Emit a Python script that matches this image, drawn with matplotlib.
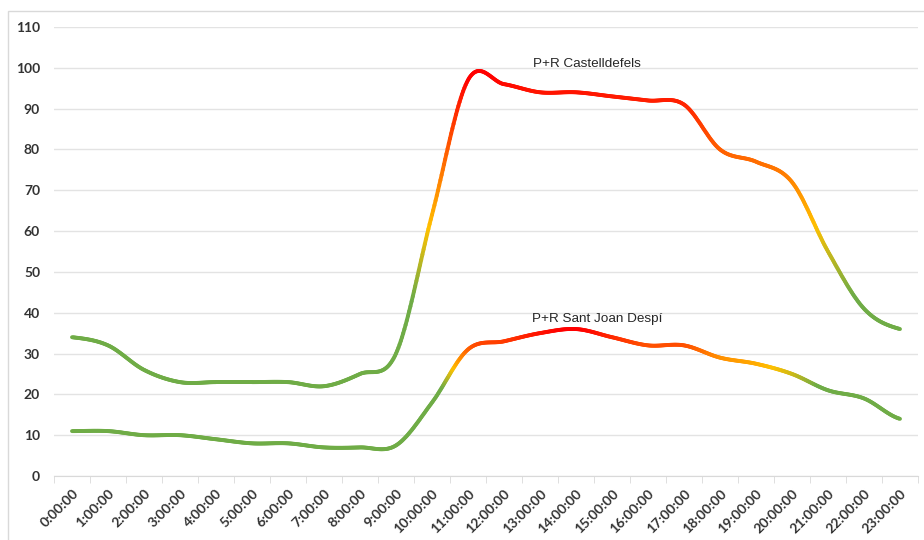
import numpy as np
import matplotlib
matplotlib.use("Agg")
import matplotlib.pyplot as plt
from matplotlib.collections import LineCollection
from matplotlib.colors import LinearSegmentedColormap, Normalize
from matplotlib.patches import Rectangle

# hourly occupancy
hours = ["%d:00:00" % h for h in range(24)]
castelldefels = [34, 32, 26, 23, 23, 23, 23, 22, 25, 30, 64, 97,
                 96, 94, 94, 93, 92, 91, 80, 77, 72, 55, 41, 36]
sant_joan = [11, 11, 10, 10, 9, 8, 8, 7, 7, 7.5, 18, 31,
             33, 35, 36, 34, 32, 32, 29, 27.5, 25, 21, 19, 14]
series_names = ["P+R Castelldefels", "P+R Sant Joan Despí"]

GREEN, YELLOW, RED = "#6FAC46", "#FFC000", "#FF0000"
# gradient stops (value, colour) for each line
stops = [
    [(22, GREEN), (44, GREEN), (61, YELLOW), (98, RED)],
    [(7, GREEN), (22, GREEN), (26.5, YELLOW), (36, RED)],
]
label_pos = [(14.3, 100.2), (14.6, 37.8)]


def smooth(y, n=30):
    # catmull-rom through the points (excel-like "smoothed line")
    y = np.asarray(y, float)
    x = np.arange(len(y), dtype=float)
    xs, ys = [], []
    for i in range(len(y) - 1):
        p0 = y[max(i - 1, 0)]
        p1, p2 = y[i], y[i + 1]
        p3 = y[min(i + 2, len(y) - 1)]
        t = np.linspace(0, 1, n, endpoint=False)
        m1 = (p2 - p0) / 2
        m2 = (p3 - p1) / 2
        h00 = 2 * t**3 - 3 * t**2 + 1
        h10 = t**3 - 2 * t**2 + t
        h01 = -2 * t**3 + 3 * t**2
        h11 = t**3 - t**2
        ys.append(h00 * p1 + h10 * m1 + h01 * p2 + h11 * m2)
        xs.append(x[i] + t)
    xs.append([x[-1]])
    ys.append([y[-1]])
    return np.concatenate(xs), np.concatenate(ys)


fig = plt.figure(figsize=(9.24, 5.4), dpi=100)
ax = fig.add_axes([54 / 924, 1 - 476 / 540, 864 / 924, 449 / 540])

for vals, st, name, pos in zip([castelldefels, sant_joan], stops, series_names, label_pos):
    xs, ys = smooth(vals)
    vmin, vmax = st[0][0], st[-1][0]
    cmap = LinearSegmentedColormap.from_list(
        name, [((v - vmin) / (vmax - vmin), c) for v, c in st])
    pts = np.column_stack([xs, ys]).reshape(-1, 1, 2)
    segs = np.concatenate([pts[:-1], pts[1:]], axis=1)
    lc = LineCollection(segs, cmap=cmap, norm=Normalize(vmin, vmax),
                        linewidth=2.8, capstyle="round", joinstyle="round", zorder=3)
    lc.set_array((ys[:-1] + ys[1:]) / 2)
    ax.add_collection(lc)
    ax.text(pos[0], pos[1], name, ha="center", va="baseline",
            fontsize=9.7, family="Liberation Sans", color="#262626")

ax.set_xlim(-0.5, 23.5)
ax.set_ylim(0, 110)
ax.set_yticks(range(0, 111, 10))
ax.grid(axis="y", color="#E3E3E3", lw=1)
ax.set_axisbelow(True)

ax.set_xticks(range(24))
ax.set_xticklabels(hours, rotation=45, ha="right", rotation_mode="anchor")
ax.set_xticks(np.arange(-0.5, 24, 1), minor=True)
ax.tick_params(axis="x", which="major", length=0, pad=8)
ax.tick_params(axis="x", which="minor", length=5, color="#D9D9D9")
ax.tick_params(axis="y", length=0, pad=10)
for lab in ax.get_xticklabels() + ax.get_yticklabels():
    lab.set_family("Lato")
    lab.set_fontweight("bold")
    lab.set_fontsize(10)
    lab.set_color("#333333")

for s in ["top", "right", "left"]:
    ax.spines[s].set_visible(False)
ax.spines["bottom"].set_color("#D9D9D9")

# chart frame
fig.add_artist(Rectangle((8 / 924, -0.1), 1.1, 1.1 - 11 / 540,
                         transform=fig.transFigure, fill=False,
                         edgecolor="#D9D9D9", lw=1))

fig.savefig("out.png", dpi=100)
